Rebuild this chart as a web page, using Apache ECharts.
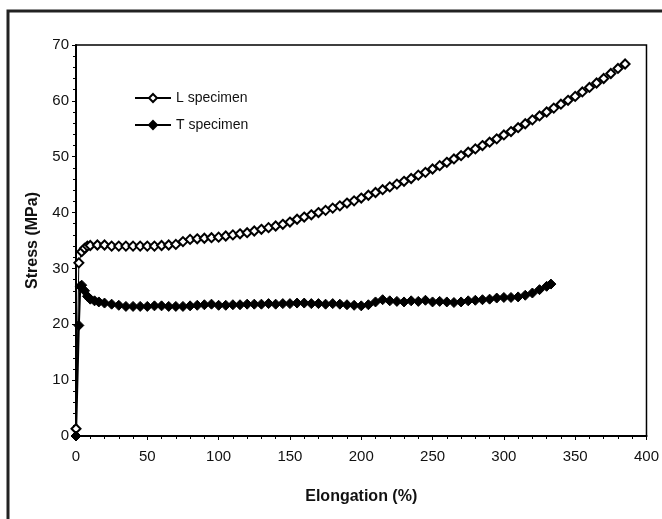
<!DOCTYPE html>
<html>
<head>
<meta charset="utf-8">
<script src="https://cdn.jsdelivr.net/npm/echarts@6/dist/echarts.min.js"></script>
<style>
  html, body { margin: 0; padding: 0; background: #fff; }
  #chart { width: 662px; height: 519px; }
</style>
</head>
<body>
<div id="chart"></div>
<script>
// L specimen (open diamonds)
const lElong = [0, 2, 4, 6, 8, 10, 15, 20, 25, 30, 35, 40, 45, 50, 55, 60, 65, 70, 75, 80,
  85, 90, 95, 100, 105, 110, 115, 120, 125, 130, 135, 140, 145, 150, 155, 160, 165, 170, 175, 180,
  185, 190, 195, 200, 205, 210, 215, 220, 225, 230, 235, 240, 245, 250, 255, 260, 265, 270, 275, 280,
  285, 290, 295, 300, 305, 310, 315, 320, 325, 330, 335, 340, 345, 350, 355, 360, 365, 370, 375, 380, 385];
const lStress = [1.3, 31, 33, 33.6, 34, 34.1, 34.2, 34.2, 34, 34, 34, 34, 34, 34, 34, 34.1, 34.2, 34.3, 34.8, 35.2,
  35.3, 35.4, 35.5, 35.6, 35.8, 36, 36.2, 36.4, 36.7, 37, 37.3, 37.6, 37.9, 38.3, 38.8, 39.2, 39.6, 40, 40.4, 40.8,
  41.2, 41.7, 42.1, 42.6, 43.1, 43.6, 44.1, 44.6, 45.1, 45.6, 46.1, 46.7, 47.2, 47.8, 48.4, 49, 49.6, 50.2, 50.8, 51.4,
  52, 52.6, 53.2, 53.9, 54.5, 55.2, 55.9, 56.6, 57.3, 58, 58.7, 59.4, 60.1, 60.8, 61.6, 62.4, 63.2, 64, 64.9, 65.8, 66.6];

// T specimen (filled diamonds)
const tElong = [0, 2, 3, 4, 6, 8, 10, 13, 16, 20, 25, 30, 35, 40, 45, 50, 55, 60, 65, 70,
  75, 80, 85, 90, 95, 100, 105, 110, 115, 120, 125, 130, 135, 140, 145, 150, 155, 160, 165, 170,
  175, 180, 185, 190, 195, 200, 205, 210, 215, 220, 225, 230, 235, 240, 245, 250, 255, 260, 265, 270,
  275, 280, 285, 290, 295, 300, 305, 310, 315, 320, 325, 330, 333];
const tStress = [0, 19.8, 26.8, 27, 26, 25, 24.5, 24.2, 24, 23.8, 23.6, 23.4, 23.2, 23.2, 23.2, 23.2, 23.3, 23.3, 23.2, 23.2,
  23.2, 23.3, 23.4, 23.5, 23.6, 23.4, 23.4, 23.5, 23.5, 23.6, 23.6, 23.6, 23.7, 23.6, 23.7, 23.7, 23.8, 23.8, 23.7, 23.7,
  23.6, 23.7, 23.6, 23.5, 23.4, 23.3, 23.5, 24, 24.4, 24.2, 24.1, 24, 24.2, 24.1, 24.3, 24, 24.1, 24, 23.9, 24,
  24.2, 24.3, 24.4, 24.5, 24.7, 24.8, 24.8, 24.9, 25.2, 25.6, 26.2, 26.8, 27.2];

const font = 'Liberation Sans, Arial, sans-serif';
const toPairs = (xs, ys) => xs.map((x, i) => [x, ys[i]]);

const chart = echarts.init(document.getElementById('chart'));

chart.setOption({
  backgroundColor: '#fff',
  animation: false,
  graphic: [
    {
      type: 'rect',
      shape: { x: 8, y: 11, width: 700, height: 600 },
      style: { fill: 'none', stroke: '#222', lineWidth: 3 },
      silent: true,
    },
  ],
  grid: {
    left: 76, top: 45, right: 12, bottom: 83,
    show: true, borderColor: '#000', borderWidth: 1.5, backgroundColor: 'transparent',
  },
  legend: {
    orient: 'vertical',
    left: 129,
    top: 86,
    itemWidth: 36,
    itemHeight: 10,
    itemGap: 13,
    textStyle: { fontFamily: font, fontSize: 14, color: '#111' },
    data: ['L specimen', 'T specimen'],
  },
  xAxis: {
    type: 'value',
    min: 0, max: 400, interval: 50,
    name: 'Elongation (%)',
    nameLocation: 'middle',
    nameGap: 53,
    nameTextStyle: { fontFamily: font, fontSize: 16, fontWeight: 'bold', color: '#111' },
    axisLine: { show: true, lineStyle: { color: '#000', width: 2 } },
    axisTick: { show: true, length: 4, lineStyle: { color: '#000' } },
    minorTick: { show: true, splitNumber: 5, length: 3, lineStyle: { color: '#000' } },
    axisLabel: { fontFamily: font, fontSize: 15, color: '#111', margin: 13 },
    splitLine: { show: false },
  },
  yAxis: {
    type: 'value',
    min: 0, max: 70, interval: 10,
    name: 'Stress (MPa)',
    nameLocation: 'middle',
    nameGap: 35,
    nameTextStyle: { fontFamily: font, fontSize: 16, fontWeight: 'bold', color: '#111' },
    axisLine: { show: true, lineStyle: { color: '#000', width: 2 } },
    axisTick: { show: true, length: 4, lineStyle: { color: '#000' } },
    minorTick: { show: true, splitNumber: 5, length: 3, lineStyle: { color: '#000' } },
    axisLabel: { fontFamily: font, fontSize: 15, color: '#111', margin: 7 },
    splitLine: { show: false },
  },
  series: [
    {
      name: 'L specimen',
      type: 'line',
      data: toPairs(lElong, lStress),
      symbol: 'diamond',
      symbolSize: 9,
      showAllSymbol: true,
      lineStyle: { color: '#000', width: 1 },
      itemStyle: { color: '#fff', borderColor: '#000', borderWidth: 2 },
    },
    {
      name: 'T specimen',
      type: 'line',
      data: toPairs(tElong, tStress),
      symbol: 'diamond',
      symbolSize: 10,
      showAllSymbol: true,
      lineStyle: { color: '#000', width: 2 },
      itemStyle: { color: '#000', borderColor: '#000', borderWidth: 1 },
    },
  ],
});
</script>
</body>
</html>
